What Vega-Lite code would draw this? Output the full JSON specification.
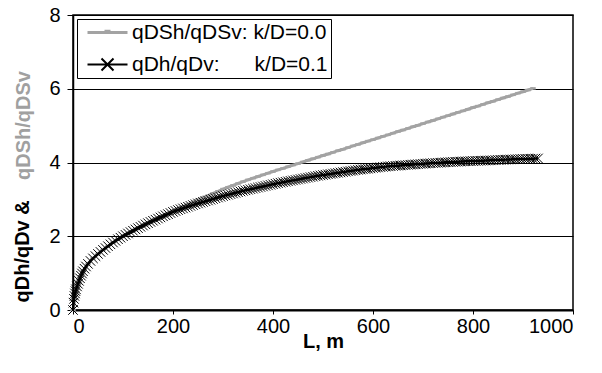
{
"$schema": "https://vega.github.io/schema/vega-lite/v6.json",
"width": 500, "height": 295,
"autosize": {"type": "none"},
"padding": {"left": 73, "top": 15, "right": 29, "bottom": 63},
"background": "white",
"config": {
  "font": "Liberation Sans",
  "view": {"stroke": "black", "strokeWidth": 1.5},
  "axis": {"labelFont": "Liberation Sans", "labelFontSize": 20, "labelColor": "black", "tickColor": "black", "domainColor": "black", "titleFont": "Liberation Sans", "titleColor": "black", "titleFontWeight": "bold", "titleFontSize": 20}
},
"title": {"text": "qDSh/qDSv", "orient": "left", "color": "#a0a0a0", "fontSize": 20, "fontWeight": "bold", "font": "Liberation Sans", "anchor": "start", "frame": "group", "offset": -22, "dx": 130},
"datasets": {
"b": [
{"L":0,"v":0},{"L":1,"v":0.2},{"L":2,"v":0.3},{"L":3,"v":0.38},{"L":4,"v":0.45},{"L":5,"v":0.51},{"L":6,"v":0.56},{"L":8,"v":0.64},{"L":10,"v":0.71},{"L":12,"v":0.79},{"L":14,"v":0.86},{"L":16,"v":0.93},{"L":18,"v":0.99},{"L":20,"v":1.05},{"L":23,"v":1.12},{"L":26,"v":1.18},{"L":30,"v":1.25},{"L":35,"v":1.33},{"L":40,"v":1.40},{"L":45,"v":1.46},{"L":50,"v":1.52},{"L":55,"v":1.575},{"L":60,"v":1.63},{"L":65,"v":1.68},{"L":70,"v":1.73},{"L":75,"v":1.78},{"L":80,"v":1.83},{"L":85,"v":1.875},{"L":90,"v":1.92},{"L":95,"v":1.96},
{"L":100,"v":2.00},{"L":105,"v":2.038},{"L":110,"v":2.075},{"L":115,"v":2.113},{"L":120,"v":2.15},{"L":125,"v":2.185},{"L":130,"v":2.22},{"L":135,"v":2.255},{"L":140,"v":2.29},{"L":145,"v":2.323},{"L":150,"v":2.355},{"L":155,"v":2.388},{"L":160,"v":2.42},{"L":165,"v":2.45},{"L":170,"v":2.48},{"L":175,"v":2.51},{"L":180,"v":2.54},{"L":185,"v":2.57},{"L":190,"v":2.60},{"L":195,"v":2.63},
{"L":200,"v":2.66},{"L":205,"v":2.685},{"L":210,"v":2.71},{"L":215,"v":2.733},{"L":220,"v":2.755},{"L":225,"v":2.778},{"L":230,"v":2.80},{"L":235,"v":2.823},{"L":240,"v":2.845},{"L":245,"v":2.868},{"L":250,"v":2.89},{"L":255,"v":2.91},{"L":260,"v":2.93},{"L":265,"v":2.95},{"L":270,"v":2.97},{"L":275,"v":2.99},{"L":280,"v":3.01},{"L":285,"v":3.03},{"L":290,"v":3.05},{"L":295,"v":3.07},
{"L":300,"v":3.09},{"L":305,"v":3.108},{"L":310,"v":3.125},{"L":315,"v":3.143},{"L":320,"v":3.16},{"L":325,"v":3.178},{"L":330,"v":3.195},{"L":335,"v":3.213},{"L":340,"v":3.23},{"L":345,"v":3.245},{"L":350,"v":3.26},{"L":355,"v":3.275},{"L":360,"v":3.29},{"L":365,"v":3.305},{"L":370,"v":3.32},{"L":375,"v":3.335},{"L":380,"v":3.35},{"L":385,"v":3.365},{"L":390,"v":3.38},{"L":395,"v":3.395},
{"L":400,"v":3.41},{"L":405,"v":3.425},{"L":410,"v":3.44},{"L":415,"v":3.453},{"L":420,"v":3.465},{"L":425,"v":3.478},{"L":430,"v":3.49},{"L":435,"v":3.503},{"L":440,"v":3.515},{"L":445,"v":3.528},{"L":450,"v":3.54},{"L":455,"v":3.553},{"L":460,"v":3.565},{"L":465,"v":3.578},{"L":470,"v":3.59},{"L":475,"v":3.603},{"L":480,"v":3.615},{"L":485,"v":3.628},{"L":490,"v":3.64},{"L":495,"v":3.65},
{"L":500,"v":3.66},{"L":505,"v":3.67},{"L":510,"v":3.68},{"L":515,"v":3.69},{"L":520,"v":3.70},{"L":525,"v":3.71},{"L":530,"v":3.72},{"L":535,"v":3.73},{"L":540,"v":3.74},{"L":545,"v":3.75},{"L":550,"v":3.76},{"L":555,"v":3.77},{"L":560,"v":3.78},{"L":565,"v":3.79},{"L":570,"v":3.80},{"L":575,"v":3.808},{"L":580,"v":3.815},{"L":585,"v":3.823},{"L":590,"v":3.83},{"L":595,"v":3.84},
{"L":600,"v":3.85},{"L":605,"v":3.858},{"L":610,"v":3.865},{"L":615,"v":3.873},{"L":620,"v":3.88},{"L":625,"v":3.888},{"L":630,"v":3.895},{"L":635,"v":3.90},{"L":640,"v":3.905},{"L":645,"v":3.91},{"L":650,"v":3.915},{"L":655,"v":3.92},{"L":660,"v":3.925},{"L":665,"v":3.93},{"L":670,"v":3.935},{"L":675,"v":3.94},{"L":680,"v":3.945},{"L":685,"v":3.95},{"L":690,"v":3.955},{"L":695,"v":3.96},
{"L":700,"v":3.965},{"L":705,"v":3.97},{"L":710,"v":3.975},{"L":715,"v":3.98},{"L":720,"v":3.985},{"L":725,"v":3.988},{"L":730,"v":3.99},{"L":735,"v":3.995},{"L":740,"v":4.00},{"L":745,"v":4.005},{"L":750,"v":4.01},{"L":755,"v":4.013},{"L":760,"v":4.015},{"L":765,"v":4.018},{"L":770,"v":4.02},{"L":775,"v":4.025},{"L":780,"v":4.03},{"L":785,"v":4.033},{"L":790,"v":4.035},{"L":795,"v":4.038},
{"L":800,"v":4.04},{"L":805,"v":4.043},{"L":810,"v":4.045},{"L":815,"v":4.048},{"L":820,"v":4.05},{"L":825,"v":4.053},{"L":830,"v":4.055},{"L":835,"v":4.058},{"L":840,"v":4.06},{"L":845,"v":4.065},{"L":850,"v":4.07},{"L":855,"v":4.073},{"L":860,"v":4.075},{"L":865,"v":4.078},{"L":870,"v":4.08},{"L":875,"v":4.083},{"L":880,"v":4.085},{"L":885,"v":4.088},{"L":890,"v":4.09},{"L":895,"v":4.093},
{"L":900,"v":4.095},{"L":905,"v":4.098},{"L":910,"v":4.10},{"L":915,"v":4.103},{"L":920,"v":4.105},{"L":925,"v":4.108},{"L":930,"v":4.11}
],
"g": [
{"L":0,"v":0},{"L":10,"v":0.71},{"L":20,"v":1.05},{"L":30,"v":1.25},{"L":40,"v":1.40},{"L":50,"v":1.52},{"L":60,"v":1.63},{"L":70,"v":1.73},{"L":80,"v":1.83},{"L":90,"v":1.92},
{"L":100,"v":2.00},{"L":110,"v":2.075},{"L":120,"v":2.15},{"L":130,"v":2.22},{"L":140,"v":2.29},{"L":150,"v":2.36},{"L":160,"v":2.425},{"L":170,"v":2.49},{"L":180,"v":2.55},{"L":190,"v":2.62},
{"L":200,"v":2.69},{"L":210,"v":2.75},{"L":220,"v":2.805},{"L":230,"v":2.865},{"L":240,"v":2.925},{"L":250,"v":2.99},{"L":260,"v":3.045},{"L":270,"v":3.10},{"L":280,"v":3.16},{"L":290,"v":3.22},
{"L":300,"v":3.28},{"L":310,"v":3.33},{"L":320,"v":3.38},{"L":330,"v":3.43},{"L":340,"v":3.48},{"L":350,"v":3.53},{"L":360,"v":3.575},{"L":370,"v":3.62},{"L":380,"v":3.665},{"L":390,"v":3.71},
{"L":400,"v":3.755},{"L":410,"v":3.80},{"L":420,"v":3.84},{"L":430,"v":3.885},{"L":440,"v":3.93},{"L":450,"v":3.97},{"L":460,"v":4.015},{"L":470,"v":4.06},{"L":480,"v":4.10},{"L":490,"v":4.145},
{"L":500,"v":4.19},{"L":510,"v":4.23},{"L":520,"v":4.275},{"L":530,"v":4.32},{"L":540,"v":4.36},{"L":550,"v":4.405},{"L":560,"v":4.45},{"L":570,"v":4.49},{"L":580,"v":4.535},{"L":590,"v":4.58},
{"L":600,"v":4.62},{"L":610,"v":4.665},{"L":620,"v":4.71},{"L":630,"v":4.75},{"L":640,"v":4.795},{"L":650,"v":4.84},{"L":660,"v":4.88},{"L":670,"v":4.925},{"L":680,"v":4.97},{"L":690,"v":5.01},
{"L":700,"v":5.055},{"L":710,"v":5.10},{"L":720,"v":5.14},{"L":730,"v":5.185},{"L":740,"v":5.23},{"L":750,"v":5.27},{"L":760,"v":5.315},{"L":770,"v":5.36},{"L":780,"v":5.40},{"L":790,"v":5.445},
{"L":800,"v":5.49},{"L":810,"v":5.53},{"L":820,"v":5.575},{"L":830,"v":5.62},{"L":840,"v":5.66},{"L":850,"v":5.705},{"L":860,"v":5.75},{"L":870,"v":5.79},{"L":880,"v":5.835},{"L":890,"v":5.88},
{"L":900,"v":5.92},{"L":910,"v":5.965},{"L":920,"v":6.01}
]
},
"encoding": {
  "x": {"field": "L", "type": "quantitative", "scale": {"domain": [0, 1000], "nice": false},
        "axis": {"values": [0,200,400,600,800,1000], "format": "d", "title": "L, m", "grid": false, "tickSize": 4, "labelPadding": 2, "domainWidth": 2, "titlePadding": -5}},
  "y": {"field": "v", "type": "quantitative", "scale": {"domain": [0, 8], "nice": false},
        "axis": {"values": [0,2,4,6,8], "format": "d", "grid": true, "gridColor": "black", "gridWidth": 1, "gridOpacity": 1, "tickSize": 6, "labelPadding": 7, "domainWidth": 1.5,
                 "title": "qDh/qDv &", "titleAngle": 270, "titleAlign": "left", "titleBaseline": "alphabetic", "titleX": -45, "titleY": 287}},
  "color": {"field": "s", "type": "nominal", "scale": {"domain": ["g", "b"], "range": ["#a3a3a3", "#000000"]},
    "legend": {"title": null, "orient": "top-left", "offset": 4, "padding": 3, "fillColor": "white", "strokeColor": "black",
      "labelFont": "Liberation Sans", "labelFontSize": 21, "labelColor": "black", "labelLimit": 400, "labelOffset": 31,
      "symbolSize": 400, "rowPadding": 10,
      "labelExpr": "datum.value == 'g' ? 'qDSh/qDSv: k/D=0.0\u00a0\u00a0\u00a0' : 'qDh/qDv:\u00a0\u00a0\u00a0\u00a0\u00a0\u00a0k/D=0.1\u00a0\u00a0\u00a0'",
      "encode": {"symbols": {"update": {
        "shape": {"signal": "datum.value == 'g' ? 'M-0.3,0H3.7M1.4,-0.12H2.0' : 'M-0.3,0H3.7M1.1,-0.6L2.3,0.6M1.1,0.6L2.3,-0.6'"},
        "strokeWidth": {"signal": "datum.value == 'g' ? 3 : 2"},
        "fill": {"value": "transparent"}, "opacity": {"value": 1}}}}}}
},
"layer": [
  {"data": {"name": "g"}, "transform": [{"calculate": "'g'", "as": "s"}], "mark": {"type": "line", "strokeWidth": 3}},
  {"data": {"name": "g"}, "transform": [{"calculate": "'g'", "as": "s"}], "mark": {"type": "point", "shape": "M-1,0H1", "size": 30, "strokeWidth": 2.5, "filled": false, "opacity": 1}},
  {"data": {"name": "b"}, "transform": [{"calculate": "'b'", "as": "s"}], "mark": {"type": "line", "strokeWidth": 2.5}},
  {"data": {"name": "b"}, "transform": [{"calculate": "'b'", "as": "s"}], "mark": {"type": "point", "shape": "M-1,-1L1,1M-1,1L1,-1", "size": 90, "strokeWidth": 1, "filled": false, "opacity": 1}}
]
}
